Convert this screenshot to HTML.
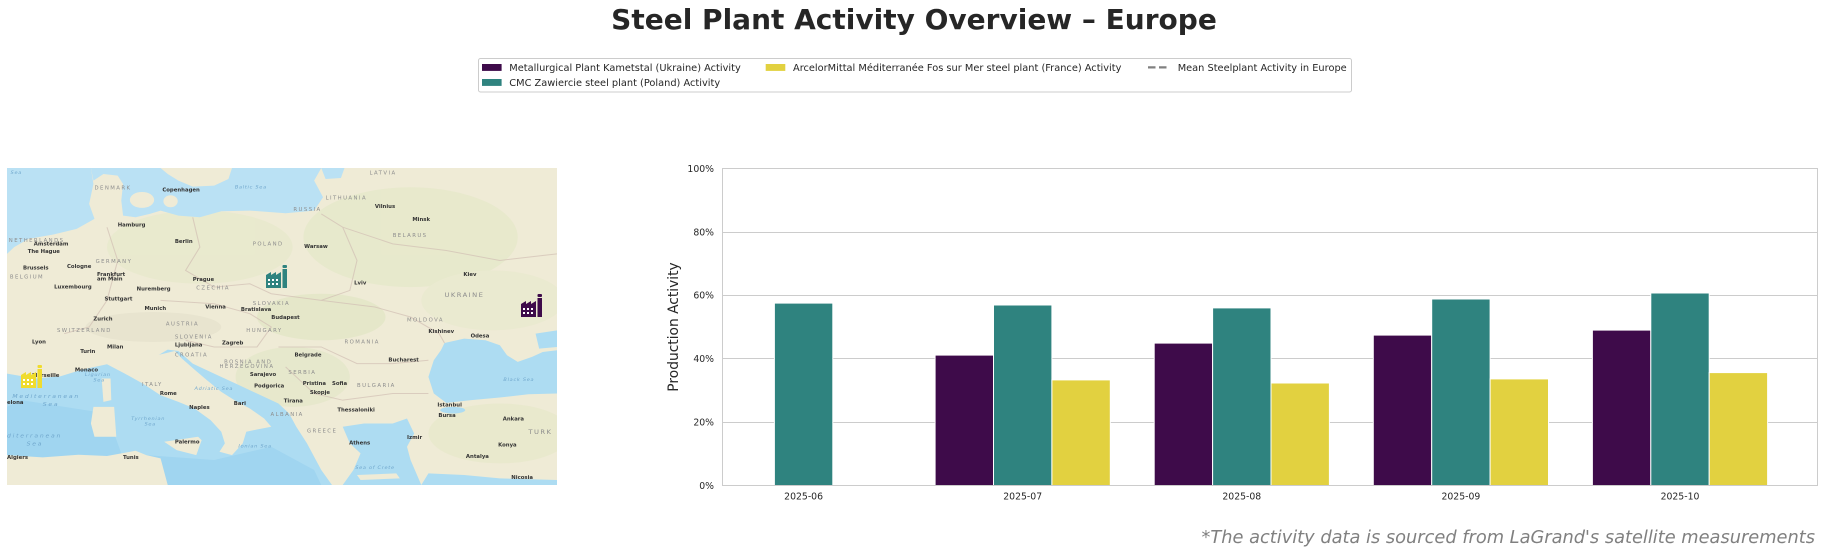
<!DOCTYPE html>
<html>
<head>
<meta charset="utf-8">
<style>
  html,body{margin:0;padding:0;background:#fff;}
  body{width:1828px;height:554px;overflow:hidden;}
  svg{display:block;}
  .t{font-family:"DejaVu Sans","Liberation Sans",sans-serif;}
</style>
</head>
<body>
<svg width="1828" height="554" viewBox="0 0 1828 554" xmlns="http://www.w3.org/2000/svg">
  <rect x="0" y="0" width="1828" height="554" fill="#ffffff"/>

  <!-- Title -->
  <text class="t" x="914" y="29" text-anchor="middle" font-size="28" font-weight="bold" fill="#262626">Steel Plant Activity Overview – Europe</text>

  <!-- Legend -->
  <rect x="478.5" y="58.5" width="873" height="33.5" rx="2" fill="#ffffff" stroke="#cccccc" stroke-width="1"/>
  <rect x="482" y="64" width="19.6" height="6.9" fill="#3e0b4a"/>
  <text class="t" x="509.3" y="70.8" font-size="9.8" fill="#262626">Metallurgical Plant Kametstal (Ukraine) Activity</text>
  <rect x="482" y="79" width="19.6" height="6.9" fill="#2f837f"/>
  <text class="t" x="509.3" y="85.8" font-size="9.8" fill="#262626">CMC Zawiercie steel plant (Poland) Activity</text>
  <rect x="765.7" y="64" width="19.6" height="6.9" fill="#e2d140"/>
  <text class="t" x="793" y="70.8" font-size="9.8" fill="#262626">ArcelorMittal Méditerranée Fos sur Mer steel plant (France) Activity</text>
  <line x1="1148" y1="67.4" x2="1168.7" y2="67.4" stroke="#808080" stroke-width="2.2" stroke-dasharray="7.5,3.5"/>
  <text class="t" x="1177.7" y="70.8" font-size="9.8" fill="#262626">Mean Steelplant Activity in Europe</text>

  <!-- Map -->
  <svg x="7" y="168" width="550" height="317" viewBox="20 22 1540 953" preserveAspectRatio="none">
    <rect x="20" y="22" width="1540" height="953" fill="#efebd6"/>
    <g opacity="0.45">
      <ellipse cx="560" cy="260" rx="260" ry="110" fill="#e3e8c6"/>
      <ellipse cx="1150" cy="230" rx="300" ry="150" fill="#dfe7c2"/>
      <ellipse cx="900" cy="470" rx="180" ry="70" fill="#d9e4bb"/>
      <ellipse cx="820" cy="650" rx="160" ry="90" fill="#dde5c0"/>
      <ellipse cx="430" cy="500" rx="190" ry="45" fill="#e0ddc8"/>
      <ellipse cx="1400" cy="820" rx="200" ry="90" fill="#e2e6c3"/>
      <ellipse cx="1380" cy="420" rx="200" ry="90" fill="#e6e9c9"/>
    </g>
    <polygon fill="#bae1f4" points="20,22 255,22 262,70 250,130 265,175 215,205 150,222 80,235 40,260 20,280"/>
    <polygon fill="#bae1f4" points="255,22 900,22 880,60 905,110 880,150 800,158 700,150 620,152 560,170 500,165 450,150 420,160 380,170 345,165 340,120 345,70 330,45 290,40 262,60"/>
    <polygon fill="#bae1f4" points="900,22 965,22 955,52 912,55"/>
    <polygon fill="#efebd6" points="450,22 650,22 640,55 600,75 540,78 500,60 470,40"/>
    <ellipse cx="398" cy="118" rx="34" ry="24" fill="#efebd6"/>
    <ellipse cx="478" cy="122" rx="20" ry="18" fill="#efebd6"/>
    <polygon fill="#addcf2" points="20,640 100,655 170,648 230,628 300,612 360,625 420,600 470,568 500,572 540,610 600,640 660,670 720,700 780,730 810,760 830,800 860,850 880,890 900,930 930,975 20,975"/>
    <polygon fill="#a0d5f0" points="60,720 300,760 340,880 600,900 760,860 880,930 900,975 20,975 20,740"/>
    <polygon fill="#addcf2" points="960,800 1020,790 1100,790 1140,775 1160,820 1140,860 1150,900 1170,950 1180,975 960,975 990,930 1010,880 980,850"/>
    <polygon fill="#addcf2" points="1180,975 1560,975 1560,960 1400,955 1300,945 1200,940"/>
    <polygon fill="#efebd6" points="300,612 350,640 400,670 450,705 500,725 545,745 590,780 620,815 630,850 615,875 650,885 680,850 690,815 720,808 760,800 740,775 700,745 660,722 620,695 580,660 545,628 510,595 490,572 440,585 390,600 340,605"/>
    <polygon fill="#efebd6" points="285,655 310,655 312,720 290,725"/>
    <polygon fill="#efebd6" points="262,740 320,740 326,830 265,830 255,790"/>
    <polygon fill="#efebd6" points="460,845 555,830 565,840 550,885 495,870"/>
    <polygon fill="#efebd6" points="20,885 120,892 220,884 300,888 350,878 380,872 410,885 450,895 470,975 20,975"/>
    <polygon fill="#efebd6" points="1000,945 1110,940 1120,955 1010,960"/>
    <polygon fill="#addcf2" points="1245,548 1300,535 1360,540 1400,555 1420,585 1450,605 1490,590 1520,575 1560,570 1560,700 1480,702 1400,712 1320,720 1250,728 1215,700 1200,650 1215,600 1235,570"/>
    <polygon fill="#addcf2" points="1500,520 1560,510 1560,560 1510,565"/>
    <ellipse cx="1268" cy="750" rx="35" ry="10" fill="#addcf2"/>
    <g fill="none" stroke="#d2bfb4" stroke-width="3" opacity="0.7">
      <polyline points="540,170 560,260 520,330 600,380 700,370 760,400 900,420 980,390 1000,300 960,200 900,160"/>
      <polyline points="300,200 330,300 300,420 250,500 180,520"/>
      <polyline points="450,420 600,430 700,460 760,500 720,560 600,560 520,540"/>
      <polyline points="900,420 1050,440 1150,470 1230,520 1245,548"/>
      <polyline points="960,200 1100,250 1250,270 1400,300 1560,280"/>
      <polyline points="780,560 900,560 1000,610 1100,610 1200,600"/>
      <polyline points="800,620 880,700 960,720 1100,700 1200,700"/>
    </g>
    <g class="t" font-size="15" fill="#8d8d8d" letter-spacing="4">
      <text x="265" y="86">DENMARK</text>
      <text x="1035" y="42">LATVIA</text>
      <text x="912" y="117">LITHUANIA</text>
      <text x="822" y="152">RUSSIA</text>
      <text x="1100" y="230">BELARUS</text>
      <text x="25" y="245">NETHERLANDS</text>
      <text x="708" y="255">POLAND</text>
      <text x="268" y="307">GERMANY</text>
      <text x="28" y="354">BELGIUM</text>
      <text x="550" y="387">CZECHIA</text>
      <text x="1245" y="410" font-size="19">UKRAINE</text>
      <text x="708" y="434">SLOVAKIA</text>
      <text x="465" y="496">AUSTRIA</text>
      <text x="160" y="515">SWITZERLAND</text>
      <text x="690" y="515">HUNGARY</text>
      <text x="1140" y="484">MOLDOVA</text>
      <text x="965" y="550">ROMANIA</text>
      <text x="490" y="534">SLOVENIA</text>
      <text x="490" y="589">CROATIA</text>
      <text x="628" y="610">BOSNIA AND</text>
      <text x="615" y="624">HERZEGOVINA</text>
      <text x="808" y="642">SERBIA</text>
      <text x="1000" y="680">BULGARIA</text>
      <text x="398" y="677">ITALY</text>
      <text x="758" y="767">ALBANIA</text>
      <text x="860" y="817">GREECE</text>
      <text x="1480" y="822" font-size="19">TURK</text>
    </g>
    <g class="t" font-size="15" font-weight="bold" fill="#333333">
      <text x="455" y="93">Copenhagen</text>
      <text x="1050" y="142">Vilnius</text>
      <text x="1155" y="182">Minsk</text>
      <text x="330" y="198">Hamburg</text>
      <text x="95" y="255">Amsterdam</text>
      <text x="490" y="248">Berlin</text>
      <text x="852" y="263">Warsaw</text>
      <text x="78" y="278">The Hague</text>
      <text x="65" y="327">Brussels</text>
      <text x="188" y="322">Cologne</text>
      <text x="272" y="346">Frankfurt</text>
      <text x="272" y="360">am Main</text>
      <text x="540" y="362">Prague</text>
      <text x="1298" y="346">Kiev</text>
      <text x="152" y="385">Luxembourg</text>
      <text x="383" y="390">Nuremberg</text>
      <text x="992" y="372">Lviv</text>
      <text x="293" y="420">Stuttgart</text>
      <text x="405" y="449">Munich</text>
      <text x="575" y="444">Vienna</text>
      <text x="675" y="452">Bratislava</text>
      <text x="760" y="476">Budapest</text>
      <text x="262" y="481">Zurich</text>
      <text x="1200" y="518">Kishinev</text>
      <text x="1318" y="532">Odesa</text>
      <text x="90" y="550">Lyon</text>
      <text x="300" y="565">Milan</text>
      <text x="490" y="558">Ljubljana</text>
      <text x="622" y="553">Zagreb</text>
      <text x="225" y="578">Turin</text>
      <text x="825" y="589">Belgrade</text>
      <text x="1088" y="604">Bucharest</text>
      <text x="210" y="634">Monaco</text>
      <text x="90" y="650">Marseille</text>
      <text x="700" y="647">Sarajevo</text>
      <text x="712" y="682">Podgorica</text>
      <text x="848" y="674">Pristina</text>
      <text x="930" y="674">Sofia</text>
      <text x="868" y="702">Skopje</text>
      <text x="448" y="705">Rome</text>
      <text x="795" y="727">Tirana</text>
      <text x="1225" y="739">Istanbul</text>
      <text x="530" y="747">Naples</text>
      <text x="655" y="735">Bari</text>
      <text x="945" y="754">Thessaloniki</text>
      <text x="1228" y="771">Bursa</text>
      <text x="1408" y="781">Ankara</text>
      <text x="1140" y="837">Izmir</text>
      <text x="978" y="854">Athens</text>
      <text x="1395" y="859">Konya</text>
      <text x="490" y="850">Palermo</text>
      <text x="345" y="897">Tunis</text>
      <text x="20" y="897">Algiers</text>
      <text x="1305" y="894">Antalya</text>
      <text x="1432" y="957">Nicosia</text>
      <text x="20" y="732">elona</text>
    </g>
    <g class="t" font-size="14" font-style="italic" fill="#6fa6cc" letter-spacing="2">
      <text x="30" y="40">Sea</text>
      <text x="658" y="84">Baltic Sea</text>
      <text x="238" y="648">Ligurian</text>
      <text x="262" y="664">Sea</text>
      <text x="545" y="690">Adriatic Sea</text>
      <text x="35" y="714" font-size="17" letter-spacing="5">Mediterranean</text>
      <text x="120" y="737" font-size="17" letter-spacing="5">Sea</text>
      <text x="368" y="780">Tyrrhenian</text>
      <text x="405" y="796">Sea</text>
      <text x="668" y="862">Ionian Sea</text>
      <text x="1410" y="662">Black Sea</text>
      <text x="995" y="927">Sea of Crete</text>
      <text x="20" y="832" font-size="17" letter-spacing="5">diterranean</text>
      <text x="75" y="856" font-size="17" letter-spacing="5">Sea</text>
    </g>
  </svg>

  <!-- Factory icons -->
  <g transform="translate(266,265)" fill="#2f837f">
    <rect x="16.5" y="0" width="4.5" height="3" rx="1"/>
    <rect x="16.5" y="4" width="4.5" height="19"/>
    <polygon points="0,23 0,10 5,7 5,10 10,7 10,10 15,7 15,23"/>
    <g fill="#ffffff"><rect x="2" y="14" width="2" height="2"/><rect x="6" y="14" width="2" height="2"/><rect x="10" y="14" width="2" height="2"/><rect x="2" y="18" width="2" height="2"/><rect x="6" y="18" width="2" height="2"/><rect x="10" y="18" width="2" height="2"/></g>
  </g>
  <g transform="translate(521,294)" fill="#3e0b4a">
    <rect x="16.5" y="0" width="4.5" height="3" rx="1"/>
    <rect x="16.5" y="4" width="4.5" height="19"/>
    <polygon points="0,23 0,10 5,7 5,10 10,7 10,10 15,7 15,23"/>
    <g fill="#ffffff"><rect x="2" y="14" width="2" height="2"/><rect x="6" y="14" width="2" height="2"/><rect x="10" y="14" width="2" height="2"/><rect x="2" y="18" width="2" height="2"/><rect x="6" y="18" width="2" height="2"/><rect x="10" y="18" width="2" height="2"/></g>
  </g>
  <g transform="translate(21,365)" fill="#f0dc2e">
    <rect x="16.5" y="0" width="4.5" height="3" rx="1"/>
    <rect x="16.5" y="4" width="4.5" height="19"/>
    <polygon points="0,23 0,10 5,7 5,10 10,7 10,10 15,7 15,23"/>
    <g fill="#ffffff"><rect x="2" y="14" width="2" height="2"/><rect x="6" y="14" width="2" height="2"/><rect x="10" y="14" width="2" height="2"/><rect x="2" y="18" width="2" height="2"/><rect x="6" y="18" width="2" height="2"/><rect x="10" y="18" width="2" height="2"/></g>
  </g>

  <!-- Chart gridlines -->
  <g stroke="#cccccc" stroke-width="1">
    <line x1="722" y1="422.5" x2="1817" y2="422.5"/>
    <line x1="722" y1="358.5" x2="1817" y2="358.5"/>
    <line x1="722" y1="295.5" x2="1817" y2="295.5"/>
    <line x1="722" y1="232.5" x2="1817" y2="232.5"/>
  </g>

  <!-- Bars -->
  <g stroke="#ffffff" stroke-width="1">
    <rect x="774.4" y="303.1" width="58.4" height="182.4" fill="#2f837f"/>
    <rect x="935.1" y="355.1" width="58.4" height="130.4" fill="#3e0b4a"/>
    <rect x="993.5" y="305.0" width="58.4" height="180.5" fill="#2f837f"/>
    <rect x="1051.9" y="379.9" width="58.4" height="105.6" fill="#e2d140"/>
    <rect x="1154.2" y="343.1" width="58.4" height="142.4" fill="#3e0b4a"/>
    <rect x="1212.6" y="307.9" width="58.4" height="177.6" fill="#2f837f"/>
    <rect x="1271.0" y="383.0" width="58.4" height="102.5" fill="#e2d140"/>
    <rect x="1373.3" y="335.1" width="58.4" height="150.4" fill="#3e0b4a"/>
    <rect x="1431.7" y="299.0" width="58.4" height="186.5" fill="#2f837f"/>
    <rect x="1490.1" y="378.9" width="58.4" height="106.6" fill="#e2d140"/>
    <rect x="1592.4" y="330.1" width="58.4" height="155.4" fill="#3e0b4a"/>
    <rect x="1650.8" y="293.0" width="58.4" height="192.5" fill="#2f837f"/>
    <rect x="1709.2" y="372.6" width="58.4" height="112.9" fill="#e2d140"/>
  </g>

  <!-- Spines -->
  <rect x="722.5" y="168.5" width="1095" height="317" fill="none" stroke="#cccccc" stroke-width="1"/>

  <!-- Y tick labels -->
  <g class="t" font-size="9.3" fill="#262626" text-anchor="end">
    <text x="714" y="489">0%</text>
    <text x="714" y="425.6">20%</text>
    <text x="714" y="362">40%</text>
    <text x="714" y="298.7">60%</text>
    <text x="714" y="235.3">80%</text>
    <text x="714" y="171.8">100%</text>
  </g>
  <!-- X tick labels -->
  <g class="t" font-size="9.3" fill="#262626" text-anchor="middle">
    <text x="803.6" y="499.6">2025-06</text>
    <text x="1022.7" y="499.6">2025-07</text>
    <text x="1241.8" y="499.6">2025-08</text>
    <text x="1460.9" y="499.6">2025-09</text>
    <text x="1680" y="499.6">2025-10</text>
  </g>
  <!-- Y label -->
  <text class="t" x="0" y="0" font-size="13.8" fill="#262626" text-anchor="middle" transform="translate(678,327) rotate(-90)">Production Activity</text>

  <!-- Footer -->
  <text class="t" x="1815" y="543" font-size="17.8" font-style="italic" fill="#808080" text-anchor="end">*The activity data is sourced from LaGrand's satellite measurements</text>
</svg>
</body>
</html>
